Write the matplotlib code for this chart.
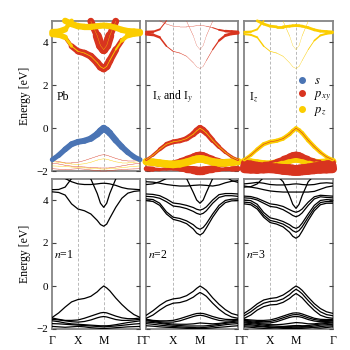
import numpy as np
import matplotlib.pyplot as plt
from matplotlib.collections import LineCollection
from matplotlib.lines import Line2D

plt.rcParams['font.family'] = ['Liberation Serif', 'DejaVu Serif']
plt.rcParams['mathtext.fontset'] = 'stix'

# k path: Gamma - X - M - Gamma
kpts = [0.0, 0.25, 0.5, 0.75, 1.0, 1.25, 1.5, 1.75, 1.875, 2.0, 2.118,
        2.236, 2.471, 2.707, 2.943, 3.179, 3.414]
kticks = [0.0, 1.0, 2.0, 3.414]
klabels = ['Γ', 'X', 'M', 'Γ']

S_COL = '#4a74b4'
PXY_COL = '#d8341f'
PZ_COL = '#fbcd00'

# ---- n=1 bands (eV) ----
n1_v1 = [-1.46, -1.25, -0.98, -0.74, -0.63, -0.58, -0.48, -0.27, -0.12, 0.0, -0.09, -0.22, -0.56, -0.86, -1.12, -1.33, -1.46]
n1_l1 = [-1.49, -1.55, -1.6, -1.6, -1.58, -1.5, -1.4, -1.3, -1.25, -1.23, -1.25, -1.3, -1.4, -1.48, -1.52, -1.52, -1.49]
n1_l2 = [-1.55, -1.58, -1.62, -1.66, -1.68, -1.65, -1.58, -1.48, -1.44, -1.42, -1.44, -1.48, -1.56, -1.6, -1.6, -1.58, -1.55]
n1_l3 = [-1.62, -1.66, -1.72, -1.76, -1.78, -1.8, -1.82, -1.84, -1.85, -1.85, -1.85, -1.84, -1.8, -1.75, -1.7, -1.66, -1.62]
n1_l4 = [-1.75, -1.76, -1.78, -1.8, -1.82, -1.84, -1.86, -1.88, -1.89, -1.9, -1.89, -1.88, -1.86, -1.83, -1.8, -1.77, -1.75]
n1_l5 = [-1.88, -1.9, -1.92, -1.9, -1.88, -1.9, -1.94, -1.96, -1.97, -1.97, -1.97, -1.96, -1.94, -1.92, -1.9, -1.89, -1.88]
n1_c1 = [4.38, 4.35, 4.23, 3.82, 3.58, 3.5, 3.35, 3.05, 2.86, 2.78, 2.88, 3.15, 3.66, 4.08, 4.32, 4.4, 4.43]
n1_c2 = [4.48, 4.49, 4.6, 5.0, 5.2, 5.2, 4.98, 4.3, 3.85, 3.66, 3.85, 4.3, 4.98, 5.2, 5.3, 5.3, 5.3]
n1_c3 = [5.3, 5.15, 5.0, 4.85, 4.75, 4.72, 4.72, 4.75, 4.77, 4.78, 4.77, 4.75, 4.68, 4.58, 4.52, 4.5, 4.48]

# ---- n=2 bands ----
n2_v1 = [-1.36, -1.15, -0.9, -0.7, -0.6, -0.56, -0.45, -0.25, -0.11, 0.0, -0.09, -0.2, -0.55, -0.85, -1.1, -1.28, -1.36]
n2_v2 = [-1.5, -1.35, -1.12, -0.92, -0.8, -0.77, -0.68, -0.52, -0.4, -0.3, -0.38, -0.48, -0.8, -1.08, -1.3, -1.44, -1.5]
n2_l1 = [-1.55, -1.6, -1.62, -1.62, -1.6, -1.52, -1.42, -1.32, -1.28, -1.27, -1.28, -1.32, -1.42, -1.5, -1.55, -1.56, -1.55]
n2_l2 = [-1.58, -1.62, -1.66, -1.68, -1.68, -1.62, -1.52, -1.42, -1.38, -1.36, -1.38, -1.42, -1.52, -1.6, -1.63, -1.62, -1.58]
n2_l3 = [-1.62, -1.65, -1.7, -1.74, -1.77, -1.78, -1.78, -1.76, -1.74, -1.72, -1.73, -1.74, -1.76, -1.74, -1.7, -1.66, -1.62]
n2_l4 = [-1.68, -1.7, -1.74, -1.78, -1.82, -1.84, -1.86, -1.86, -1.86, -1.86, -1.86, -1.85, -1.82, -1.78, -1.74, -1.7, -1.68]
n2_l5 = [-1.75, -1.78, -1.82, -1.85, -1.88, -1.9, -1.92, -1.93, -1.94, -1.94, -1.93, -1.92, -1.88, -1.84, -1.8, -1.77, -1.75]
n2_l6 = [-1.85, -1.87, -1.9, -1.92, -1.93, -1.95, -1.97, -1.98, -1.98, -1.98, -1.98, -1.97, -1.95, -1.92, -1.9, -1.87, -1.85]
n2_c1 = [3.97, 3.93, 3.75, 3.35, 3.1, 3.02, 2.9, 2.65, 2.46, 2.37, 2.47, 2.7, 3.2, 3.62, 3.88, 3.96, 3.97]
n2_c2 = [4.05, 4.02, 3.85, 3.45, 3.2, 3.14, 3.03, 2.85, 2.71, 2.64, 2.72, 2.9, 3.35, 3.75, 3.98, 4.04, 4.05]
n2_c3 = [4.17, 4.15, 4.08, 3.92, 3.72, 3.68, 3.6, 3.47, 3.38, 3.33, 3.38, 3.5, 3.85, 4.12, 4.2, 4.2, 4.17]
n2_c4 = [4.28, 4.26, 4.2, 4.05, 3.86, 3.82, 3.75, 3.65, 3.57, 3.53, 3.58, 3.68, 4.0, 4.25, 4.3, 4.3, 4.28]
n2_c5 = [4.72, 4.75, 4.85, 5.0, 5.15, 5.2, 5.0, 4.35, 4.0, 3.85, 4.0, 4.35, 5.0, 5.2, 5.1, 4.9, 4.82]
n2_c6 = [4.85, 4.83, 4.78, 4.72, 4.68, 4.65, 4.65, 4.68, 4.69, 4.7, 4.69, 4.68, 4.65, 4.7, 4.8, 4.87, 4.9]

# ---- n=3 bands ----
n3_v1 = [-1.27, -1.07, -0.83, -0.65, -0.58, -0.54, -0.42, -0.22, -0.1, 0.0, -0.08, -0.2, -0.52, -0.82, -1.05, -1.2, -1.27]
n3_v2 = [-1.38, -1.2, -0.97, -0.8, -0.72, -0.7, -0.6, -0.4, -0.26, -0.15, -0.24, -0.36, -0.68, -0.97, -1.2, -1.33, -1.38]
n3_v3 = [-1.5, -1.35, -1.12, -0.96, -0.88, -0.86, -0.76, -0.58, -0.45, -0.35, -0.44, -0.55, -0.86, -1.14, -1.36, -1.46, -1.5]
n3_l1 = [-1.55, -1.58, -1.6, -1.6, -1.58, -1.5, -1.4, -1.3, -1.26, -1.25, -1.26, -1.3, -1.4, -1.5, -1.55, -1.56, -1.55]
n3_l2 = [-1.6, -1.62, -1.65, -1.66, -1.65, -1.58, -1.48, -1.38, -1.34, -1.33, -1.34, -1.38, -1.48, -1.56, -1.6, -1.61, -1.6]
n3_l3 = [-1.63, -1.66, -1.7, -1.72, -1.72, -1.66, -1.56, -1.46, -1.43, -1.42, -1.43, -1.46, -1.56, -1.63, -1.66, -1.65, -1.63]
n3_l4 = [-1.68, -1.7, -1.74, -1.77, -1.8, -1.8, -1.78, -1.74, -1.72, -1.7, -1.71, -1.72, -1.76, -1.76, -1.72, -1.7, -1.68]
n3_l5 = [-1.72, -1.75, -1.78, -1.82, -1.85, -1.87, -1.88, -1.86, -1.85, -1.84, -1.84, -1.85, -1.84, -1.8, -1.77, -1.74, -1.72]
n3_l6 = [-1.78, -1.8, -1.84, -1.87, -1.9, -1.92, -1.93, -1.93, -1.92, -1.92, -1.92, -1.92, -1.9, -1.86, -1.82, -1.8, -1.78]
n3_l7 = [-1.85, -1.86, -1.88, -1.9, -1.93, -1.95, -1.97, -1.98, -1.98, -1.98, -1.98, -1.97, -1.95, -1.92, -1.89, -1.86, -1.85]
n3_l8 = [-1.9, -1.92, -1.95, -1.97, -1.96, -1.93, -1.9, -1.88, -1.87, -1.87, -1.87, -1.88, -1.9, -1.94, -1.96, -1.93, -1.9]
n3_c1 = [3.82, 3.78, 3.58, 3.2, 2.95, 2.88, 2.75, 2.5, 2.31, 2.22, 2.32, 2.55, 3.05, 3.5, 3.78, 3.85, 3.85]
n3_c2 = [3.9, 3.87, 3.68, 3.3, 3.05, 2.98, 2.88, 2.7, 2.57, 2.5, 2.58, 2.75, 3.2, 3.62, 3.88, 3.93, 3.92]
n3_c3 = [4.0, 3.97, 3.8, 3.42, 3.17, 3.1, 3.0, 2.85, 2.74, 2.68, 2.75, 2.92, 3.35, 3.75, 3.98, 4.02, 4.0]
n3_c4 = [4.1, 4.08, 4.0, 3.85, 3.7, 3.66, 3.55, 3.38, 3.28, 3.22, 3.28, 3.4, 3.75, 4.05, 4.15, 4.12, 4.1]
n3_c5 = [4.18, 4.16, 4.08, 3.95, 3.82, 3.78, 3.7, 3.55, 3.48, 3.43, 3.48, 3.58, 3.9, 4.15, 4.22, 4.2, 4.18]
n3_c6 = [4.6, 4.62, 4.75, 5.05, 5.2, 5.15, 4.85, 4.2, 3.8, 3.61, 3.8, 4.2, 4.85, 5.15, 5.3, 5.3, 5.3]
n3_c7 = [4.65, 4.6, 4.55, 4.48, 4.42, 4.39, 4.37, 4.37, 4.37, 4.37, 4.37, 4.37, 4.37, 4.4, 4.5, 4.6, 4.65]
n3_c8 = [4.75, 4.78, 4.82, 4.78, 4.72, 4.7, 4.7, 4.72, 4.74, 4.75, 4.74, 4.72, 4.7, 4.72, 4.78, 4.8, 4.78]

n1_bands = [n1_v1, n1_l1, n1_l2, n1_l3, n1_l4, n1_l5, n1_c1, n1_c2, n1_c3]
n2_bands = [n2_v1, n2_v2, n2_l1, n2_l2, n2_l3, n2_l4, n2_l5, n2_l6,
            n2_c1, n2_c2, n2_c3, n2_c4, n2_c5, n2_c6]
n3_bands = [n3_v1, n3_v2, n3_v3, n3_l1, n3_l2, n3_l3, n3_l4, n3_l5, n3_l6, n3_l7, n3_l8,
            n3_c1, n3_c2, n3_c3, n3_c4, n3_c5, n3_c6, n3_c7, n3_c8]

# ---- orbital weights for the n=1 projections ----
faint = [0.06] * 17
# Pb
pb_s_v1 = [0.7, 0.75, 0.8, 0.85, 0.85, 0.85, 0.9, 0.95, 1.0, 1.0, 1.0, 0.95, 0.9, 0.85, 0.8, 0.75, 0.7]
pb_pxy_c1 = [0.1, 0.1, 0.3, 0.8, 0.9, 0.95, 1.0, 1.05, 1.1, 1.1, 1.1, 1.05, 0.95, 0.6, 0.3, 0.15, 0.1]
pb_pz_c1 = [0.9, 0.9, 0.7, 0.2, 0.1, 0.1, 0.1, 0.1, 0.1, 0.1, 0.1, 0.1, 0.15, 0.4, 0.8, 0.9, 0.9]
pb_pxy_c2 = [0.05, 0.05, 0.1, 0.4, 0.8, 1.0, 0.7, 1.3, 1.3, 1.3, 1.3, 1.3, 0.7, 0.8, 0.5, 0.3, 0.3]
pb_pz_c2 = [0.9, 0.9, 0.9, 0.4, 0.2, 0.1, 0.05, 0.05, 0.05, 0.05, 0.05, 0.05, 0.05, 0.1, 0.2, 0.2, 0.2]
pb_pz_c3 = [0.9, 0.9, 0.9, 0.9, 0.9, 0.9, 0.9, 0.85, 0.85, 0.85, 0.85, 0.85, 0.85, 0.9, 0.9, 0.9, 0.9]
# I_x and I_y
ixy_pxy_v1 = [0.35, 0.4, 0.5, 0.65, 0.7, 0.7, 0.75, 0.85, 0.95, 1.0, 0.95, 0.85, 0.7, 0.55, 0.45, 0.4, 0.35]
ixy_pz_v1 = [0.1] * 17
ixy_pxy_l1 = [0.3, 0.3, 0.3, 0.4, 0.5, 0.6, 0.7, 0.8, 0.9, 0.9, 0.9, 0.8, 0.7, 0.5, 0.4, 0.3, 0.3]
ixy_pz_l2 = [1.1] * 17
ixy_pxy_l3 = [0.5] * 17
ixy_pxy_l5 = [0.9, 0.6, 0.4, 0.4, 0.5, 0.6, 0.8, 1.0, 1.2, 1.2, 1.2, 1.0, 0.8, 0.6, 0.5, 0.7, 0.9]
ixy_pxy_c1 = [0.45, 0.4, 0.3, 0.15, 0.1, 0.08, 0.06, 0.04, 0.03, 0.03, 0.03, 0.05, 0.1, 0.25, 0.4, 0.45, 0.45]
ixy_pxy_c2 = [0.4, 0.35, 0.2, 0.1, 0.08, 0.06, 0.05, 0.04, 0.03, 0.03, 0.03, 0.04, 0.05, 0.06, 0.08, 0.08, 0.08]
ixy_pxy_c3 = [0.05, 0.05, 0.05, 0.05, 0.05, 0.05, 0.05, 0.05, 0.05, 0.05, 0.05, 0.05, 0.1, 0.2, 0.35, 0.4, 0.4]
# I_z
iz_pz_v1 = [0.5, 0.5, 0.55, 0.6, 0.6, 0.6, 0.6, 0.6, 0.6, 0.6, 0.6, 0.6, 0.6, 0.6, 0.55, 0.5, 0.5]
iz_pxy_v1 = [0.08] * 17
iz_pz_l1 = [0.5, 0.5, 0.5, 0.5, 0.5, 0.4, 0.3, 0.2, 0.2, 0.2, 0.2, 0.2, 0.3, 0.4, 0.5, 0.5, 0.5]
iz_pxy_l1 = [0.1, 0.1, 0.1, 0.2, 0.3, 0.4, 0.6, 0.8, 0.9, 0.9, 0.9, 0.8, 0.6, 0.4, 0.2, 0.1, 0.1]
iz_pz_l2 = [1.1] * 17
iz_pxy_l3 = [1.0] * 17
iz_pxy_l4 = [1.2] * 17
iz_pxy_l5 = [1.3, 1.3, 1.2, 1.2, 1.3, 1.3, 1.4, 1.4, 1.4, 1.4, 1.4, 1.4, 1.4, 1.3, 1.3, 1.3, 1.3]
iz_pz_c1 = [0.3, 0.3, 0.25, 0.15, 0.1, 0.08, 0.06, 0.05, 0.05, 0.05, 0.05, 0.05, 0.08, 0.15, 0.3, 0.3, 0.3]
iz_pz_c2 = [0.35, 0.3, 0.25, 0.2, 0.15, 0.1, 0.08, 0.05, 0.04, 0.04, 0.04, 0.05, 0.08, 0.1, 0.1, 0.1, 0.1]
iz_pz_c3 = [0.4] * 17

# drawing order: (band, colour, weights)
pb_layers = [
    (n1_l1, PXY_COL, faint), (n1_l2, PZ_COL, faint), (n1_l3, PXY_COL, faint),
    (n1_l4, PZ_COL, faint), (n1_l5, PXY_COL, faint),
    (n1_v1, S_COL, pb_s_v1),
    (n1_c2, PXY_COL, pb_pxy_c2), (n1_c1, PXY_COL, pb_pxy_c1),
    (n1_c3, PZ_COL, pb_pz_c3), (n1_c2, PZ_COL, pb_pz_c2), (n1_c1, PZ_COL, pb_pz_c1),
]
ixy_layers = [
    (n1_c1, PXY_COL, ixy_pxy_c1), (n1_c2, PXY_COL, ixy_pxy_c2), (n1_c3, PXY_COL, ixy_pxy_c3),
    (n1_l3, PXY_COL, ixy_pxy_l3), (n1_l5, PXY_COL, ixy_pxy_l5), (n1_l1, PXY_COL, ixy_pxy_l1),
    (n1_l2, PZ_COL, ixy_pz_l2),
    (n1_v1, PXY_COL, ixy_pxy_v1), (n1_v1, PZ_COL, ixy_pz_v1),
]
iz_layers = [
    (n1_c1, PZ_COL, iz_pz_c1), (n1_c2, PZ_COL, iz_pz_c2), (n1_c3, PZ_COL, iz_pz_c3),
    (n1_l1, PZ_COL, iz_pz_l1), (n1_l2, PZ_COL, iz_pz_l2),
    (n1_l3, PXY_COL, iz_pxy_l3), (n1_l4, PXY_COL, iz_pxy_l4), (n1_l5, PXY_COL, iz_pxy_l5),
    (n1_l1, PXY_COL, iz_pxy_l1),
    (n1_v1, PZ_COL, iz_pz_v1), (n1_v1, PXY_COL, iz_pxy_v1),
]


def fat_band(ax, energies, weights, color, scale=5.0):
    pts = np.column_stack([kpts, energies])
    segs = np.stack([pts[:-1], pts[1:]], axis=1)
    w = np.asarray(weights)
    lw = scale * (w[:-1] + w[1:]) / 2
    # keep only segments inside the energy window, let the thick ends spill over
    keep = segs[:, :, 1].max(axis=1) <= 5.02
    lc = LineCollection(segs[keep], linewidths=lw[keep], colors=color,
                        capstyle='round', joinstyle='round', zorder=2, clip_on=False)
    ax.add_collection(lc)


def setup(ax, bottom_row, first_col):
    for k in kticks[1:3]:
        ax.axvline(k, color='#b8b8b8', lw=0.7, dashes=(3, 2), zorder=0)
    ax.set_xlim(kticks[0], kticks[-1])
    ax.set_ylim(-2, 5)
    ax.set_yticks([-2, 0, 2, 4])
    ax.tick_params(axis='y', direction='in', length=3, width=0.8,
                   left=True, right=True, labelsize=8, color='#444444', pad=3)
    ax.set_xticks(kticks)
    ax.tick_params(axis='x', length=0, labelsize=8.5, pad=4)
    if bottom_row:
        ax.set_xticklabels(klabels)
    else:
        ax.set_xticklabels([])
    if first_col:
        ax.set_ylabel('Energy [eV]', fontsize=8.5, labelpad=4)
    else:
        ax.set_yticklabels([])
    for sp in ax.spines.values():
        sp.set_color('#858585')
        sp.set_linewidth(1.3)
        sp.set_zorder(1)


fig = plt.figure(figsize=(3.5, 3.5), dpi=100)
col_x = [52.3 / 350, 146.3 / 350, 244.3 / 350]
col_w = [87.7 / 350, 91.7 / 350, 88.3 / 350]
top_y = (350 - 171.3) / 350
bot_y = (350 - 329.0) / 350
row_h = 150.5 / 350

top_axes = [fig.add_axes([col_x[i], top_y, col_w[i], row_h]) for i in range(3)]
bot_axes = [fig.add_axes([col_x[i], bot_y, col_w[i], row_h]) for i in range(3)]

for i, ax in enumerate(top_axes):
    setup(ax, False, i == 0)
for i, ax in enumerate(bot_axes):
    setup(ax, True, i == 0)

# top: orbital projections of n=1
for ax, layers in zip(top_axes, [pb_layers, ixy_layers, iz_layers]):
    for band, col, w in layers:
        fat_band(ax, band, w, col)

top_axes[0].text(0.18, 1.45, 'Pb', fontsize=8.5, va='center')
top_axes[1].text(0.2, 1.45, r'I$_x$ and I$_y$', fontsize=8.5, va='center')
top_axes[2].text(0.18, 1.45, r'I$_z$', fontsize=8.5, va='center')

handles = [Line2D([], [], marker='o', ls='none', color=c, markersize=4)
           for c in [S_COL, PXY_COL, PZ_COL]]
top_axes[2].legend(handles, ['$s$', '$p_{xy}$', '$p_z$'], loc='upper left',
                   bbox_to_anchor=(0.6, 0.64), frameon=False, fontsize=9,
                   handlelength=0.8, handletextpad=0.5, labelspacing=0.1,
                   borderpad=0, borderaxespad=0)

# bottom: full band structures for n=1,2,3
for ax, bands, lab in zip(bot_axes, [n1_bands, n2_bands, n3_bands], ['1', '2', '3']):
    for b in bands:
        ax.plot(kpts, b, color='k', lw=0.9, zorder=2)
    ax.text(0.06, 1.45, '$n$=' + lab, fontsize=8.5, va='center')

fig.savefig('out.png', dpi=100)
